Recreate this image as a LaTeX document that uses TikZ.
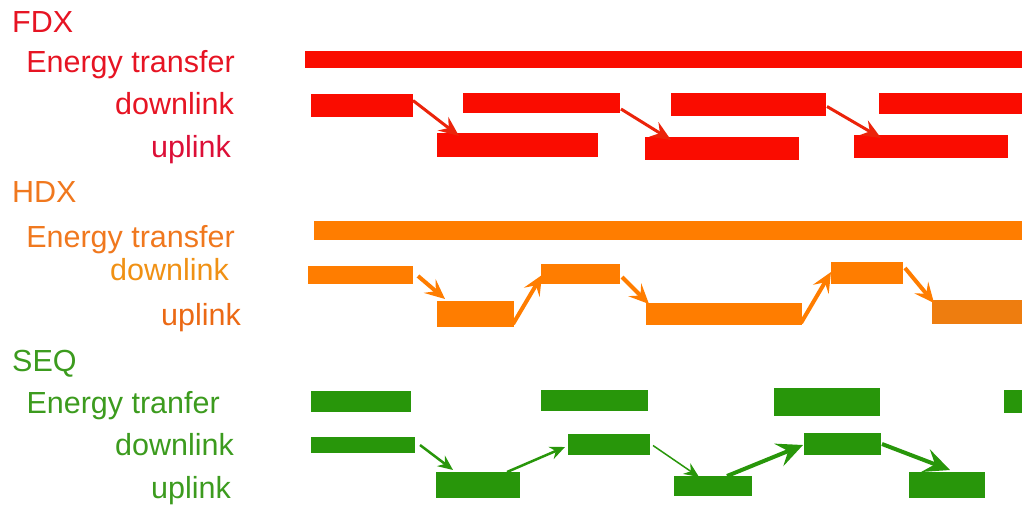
\documentclass[tikz,border=0pt]{standalone}
\usepackage{fontspec}
\setmainfont{Liberation Sans}
\usetikzlibrary{arrows.meta,calc}
\definecolor{fred}{RGB}{250,12,0}
\definecolor{fredt}{RGB}{230,20,35}
\definecolor{fredu}{RGB}{220,15,55}
\definecolor{hor}{RGB}{255,125,0}
\definecolor{hor2}{RGB}{238,125,15}
\definecolor{hort}{RGB}{240,120,30}
\definecolor{hord}{RGB}{240,145,20}
\definecolor{horu}{RGB}{235,105,20}
\definecolor{sgr}{RGB}{40,150,10}
\definecolor{sgrt}{RGB}{60,155,30}
\definecolor{farr}{RGB}{235,35,10}
\tikzset{
  seg/.style={rectangle,inner sep=0pt,outer sep=0pt,draw=none},
  lbl/.style={inner sep=0pt,font=\fontsize{30.5}{35}\selectfont},
  farrow/.style={farr,line width=3pt,-{Stealth[length=20pt,width=17pt,inset=7pt]}},
  harrow/.style={hor,line width=4pt,-{Stealth[length=20pt,width=18pt,inset=8pt]}},
  gthin/.style={sgr,line width=2pt,-{Stealth[length=15pt,width=13pt,inset=5pt]}},
  gthick/.style={sgr,line width=4pt,-{Stealth[length=26pt,width=24pt,inset=10pt]}},
}
\newcommand\seg[6]{\node[seg,fill=#6,minimum width={(#4-#2)*1pt},minimum height={(#5-#3)*1pt}] (#1) at ({(#2+#4)/2},{(#3+#5)/2}) {};}
\begin{document}
\begin{tikzpicture}[x=1pt,y=-1pt]
\useasboundingbox (0,0) rectangle (1022,505);
% labels
\node[lbl,anchor=base west,text=fredt] (tfdx) at (12,33) {FDX};
\node[lbl,anchor=base east,text=fredt] (tfe) at (235,73) {Energy transfer};
\node[lbl,anchor=base east,text=fredt] (tfd) at (234,115) {downlink};
\node[lbl,anchor=base east,text=fredu] (tfu) at (231,158) {uplink};
\node[lbl,anchor=base west,text=hort] (thdx) at (12,203) {HDX};
\node[lbl,anchor=base east,text=hort] (the) at (235,247) {Energy transfer};
\node[lbl,anchor=base east,text=hord] (thd) at (229,280) {downlink};
\node[lbl,anchor=base east,text=horu] (thu) at (241,325) {uplink};
\node[lbl,anchor=base west,text=sgrt] (tseq) at (12,371) {SEQ};
\node[lbl,anchor=base east,text=sgrt] (tse) at (220,413) {Energy tranfer};
\node[lbl,anchor=base east,text=sgrt] (tsd) at (234,455) {downlink};
\node[lbl,anchor=base east,text=sgrt] (tsu) at (231,498) {uplink};
% FDX
\seg{fE}{305}{51}{1022}{68}{fred}
\seg{fd1}{311}{94}{413}{117}{fred}
\seg{fd2}{463}{93}{620}{113}{fred}
\seg{fd3}{671}{93}{826}{116}{fred}
\seg{fd4}{879}{93}{1022}{114}{fred}
\seg{fu1}{437}{133}{598}{157}{fred}
\seg{fu2}{645}{137}{799}{160}{fred}
\seg{fu3}{854}{135}{1008}{158}{fred}
\draw[farrow] ($(fd1.east)+(0,-5)$) -- ($(fu1.north west)+(22,3)$);
\draw[farrow] ($(fd2.south east)+(1,-4)$) -- ($(fu2.north west)+(26,3)$);
\draw[farrow] ($(fd3.east)+(1,2)$) -- ($(fu3.north west)+(27,3)$);
% HDX
\seg{hE}{314}{221}{1022}{240}{hor}
\seg{hd1}{308}{266}{413}{284}{hor}
\seg{hd2}{541}{264}{620}{284}{hor}
\seg{hd3}{831}{262}{903}{284}{hor}
\seg{hu1}{437}{301}{514}{327}{hor}
\seg{hu2}{646}{303}{802}{325}{hor}
\seg{hu3}{932}{300}{1022}{324}{hor2}
\draw[harrow] ($(hd1.east)+(5,1)$) -- ($(hu1.north west)+(8,-2)$);
\draw[harrow] ($(hu1.south east)+(-1,-3)$) -- ($(hd2.west)+(1,1)$);
\draw[harrow] ($(hd2.east)+(2,3)$) -- ($(hu2.north west)+(3,1)$);
\draw[harrow] ($(hu2.south east)+(-1,-2)$) -- ($(hd3.west)+(0,-1)$);
\draw[harrow] ($(hd3.east)+(2,-5)$) -- ($(hu3.north west)+(2,3)$);
% SEQ
\seg{sE1}{311}{391}{411}{412}{sgr}
\seg{sE2}{541}{390}{648}{411}{sgr}
\seg{sE3}{774}{388}{880}{416}{sgr}
\seg{sE4}{1004}{390}{1022}{413}{sgr}
\seg{sd1}{311}{437}{415}{453}{sgr}
\seg{sd2}{568}{434}{650}{455}{sgr}
\seg{sd3}{804}{433}{881}{455}{sgr}
\seg{su1}{436}{472}{520}{498}{sgr}
\seg{su2}{674}{476}{752}{496}{sgr}
\seg{su3}{909}{472}{985}{498}{sgr}
\draw[gthin,line width=2.5pt] ($(sd1.east)+(5,0)$) -- ($(su1.north west)+(17,-2)$);
\draw[gthin,line width=2.5pt] ($(su1.north east)+(-13,0)$) -- ($(sd2.west)+(-3,2.5)$);
\draw[gthin,line width=1.5pt] ($(sd2.east)+(3,1)$) -- ($(su2.north west)+(25,1)$);
\draw[gthick] ($(su2.north west)+(53,0)$) -- ($(sd3.west)+(-1,1)$);
\draw[gthick] ($(sd3.east)+(1,0)$) -- ($(su3.north west)+(41,-2)$);
\end{tikzpicture}
\end{document}
